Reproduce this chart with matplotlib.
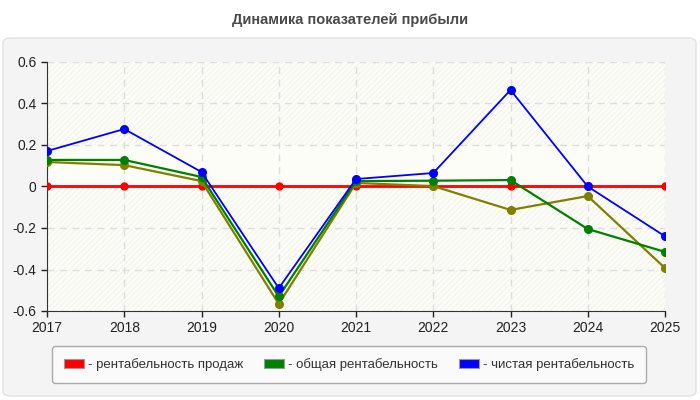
import matplotlib.pyplot as plt
from matplotlib.patches import FancyBboxPatch, Patch, Rectangle

years = [2017, 2018, 2019, 2020, 2021, 2022, 2023, 2024, 2025]
rent_prodazh = [0, 0, 0, 0, 0, 0, 0, 0, 0]
obshaya = [0.128, 0.128, 0.046, -0.53, 0.026, 0.028, 0.031, -0.205, -0.315]
chistaya = [0.171, 0.277, 0.07, -0.49, 0.036, 0.065, 0.465, 0.0, -0.24]
extra = [0.118, 0.103, 0.026, -0.566, 0.017, 0.002, -0.113, -0.046, -0.393]

labels = ["- рентабельность продаж", "- общая рентабельность", "- чистая рентабельность"]
colors = ["#ff0000", "#008000", "#0000ff"]
olive = "#808000"

plt.rcParams['font.family'] = ['Liberation Sans', 'DejaVu Sans']
plt.rcParams['hatch.linewidth'] = 0.6

fig = plt.figure(figsize=(7, 4), dpi=100)
fig.patch.set_facecolor("white")

# серая панель под графиком
panel = FancyBboxPatch((3 / 700, 4 / 400), 693 / 700, 358 / 400,
                       boxstyle="round,pad=0,rounding_size=0.012",
                       transform=fig.transFigure, facecolor="#f4f4f4",
                       edgecolor="#e2e2e2", linewidth=1, zorder=-5)
fig.patches.append(panel)

fig.text(0.5, 1 - 20 / 400, "Динамика показателей прибыли", ha="center", va="center",
         fontsize=10.5, fontweight="bold", color="#4a4a4a")

ax = fig.add_axes([47 / 700, 1 - 311 / 400, 618 / 700, 249 / 400])
ax.set_zorder(1)
ax.set_facecolor("#fdfdf7")

# полосы со штриховкой
for lo, hi in [(0.4, 0.6), (0.2, 0.4), (-0.6, 0.0)]:
    ax.add_patch(Rectangle((2017, lo), 8, hi - lo, facecolor="none",
                           edgecolor="#f0f0ec", hatch="//////", linewidth=0, zorder=0))

ax.plot(years, rent_prodazh, color=colors[0], lw=2, marker="o", ms=5, zorder=3)
ax.plot(years, extra, color=olive, lw=1.6, marker="o", ms=5.5, zorder=4)
ax.plot(years, obshaya, color=colors[1], lw=1.6, marker="o", ms=5.5, zorder=5)
ax.plot(years, chistaya, color=colors[2], lw=1.3, marker="o", ms=5.5, zorder=6)

ax.set_xlim(2017, 2025)
ax.set_ylim(-0.6, 0.6)
ax.set_xticks(years)
ax.set_yticks([-0.6, -0.4, -0.2, 0, 0.2, 0.4, 0.6])
ax.set_yticklabels(["-0.6", "-0.4", "-0.2", "0", "0.2", "0.4", "0.6"])
ax.tick_params(labelsize=10, colors="#222222", length=4, width=1)
ax.grid(True, color="#dddddd", linestyle=(0, (5, 4)), linewidth=1)
ax.set_axisbelow(True)
for side in ["top", "right"]:
    ax.spines[side].set_visible(False)
for side in ["left", "bottom"]:
    ax.spines[side].set_color("#333333")

handles = [Patch(facecolor=c, edgecolor="#999999", linewidth=0.8) for c in colors]
leg = fig.legend(handles, labels, loc="center", bbox_to_anchor=(349 / 700, 1 - 364.5 / 400),
                 ncol=3, fontsize=9.5, frameon=True, fancybox=True, handlelength=1.5,
                 handleheight=0.7, handletextpad=0.3, columnspacing=1.6,
                 borderpad=0.9, labelcolor="#333333")
frame = leg.get_frame()
frame.set_facecolor("#fafafa")
frame.set_edgecolor("#aaaaaa")
frame.set_alpha(1)

fig.savefig("out.png", dpi=100)
